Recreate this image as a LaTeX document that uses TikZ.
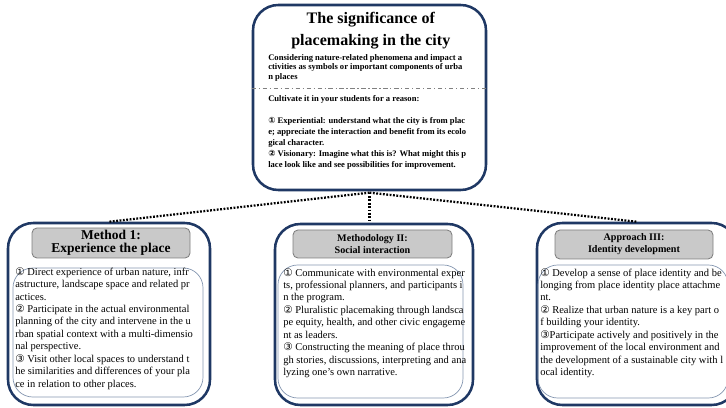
\documentclass[tikz,border=0pt]{standalone}
\usepackage{fontspec}
\setmainfont{Liberation Serif}
\newfontfamily\symfont{DejaVu Sans}
\usepackage{xcolor}
\usetikzlibrary{positioning,calc}
\definecolor{navy}{HTML}{1F3864}
\definecolor{headgray}{HTML}{C9C9C9}
\definecolor{headline}{HTML}{7F7F7F}
\definecolor{bodyline}{HTML}{8496B0}
\newcommand{\cnum}[1]{{\symfont #1}}

\begin{document}
\begin{tikzpicture}[
    outer/.style={draw=navy,line width=1.8pt,rounded corners=18pt,inner sep=0pt},
    head/.style={draw=headline,fill=headgray,rounded corners=3.5pt,line width=0.6pt,
                 inner sep=0pt,align=center},
    body/.style={draw=bodyline,rounded corners=14pt,line width=0.5pt,inner sep=0pt},
    txt/.style={anchor=north west,inner sep=0pt,align=left,
                font=\fontsize{7.47}{8.85}\selectfont},
    toptxt/.style={anchor=north west,inner sep=0pt,align=left},
    link/.style={line width=1.6pt,dash pattern=on 1.3pt off 1.1pt},
  ]
  \useasboundingbox (0,0) rectangle (18.15,-10.2);

  \node[outer,minimum width=5.825cm,minimum height=4.625cm] (sig) at (9.2375,-2.4375) {};
  \node[font=\fontsize{11.4}{15.4}\selectfont\bfseries,align=center,inner sep=0pt] (title)
    at (9.27,-0.76) {The significance of\\placemaking in the city};
  \node[toptxt,font=\fontsize{6.1}{6.8}\selectfont\bfseries] (idea) at (6.7,-1.35)
    {Considering nature-related phenomena and impact a\\ctivities as symbols or important components of urba\\n places};
  \draw[gray,line width=0.5pt,dash pattern=on 3pt off 2pt on 0.8pt off 2pt]
    (sig.west |- 0,-2.2) -- (sig.east |- 0,-2.2);
  \node[toptxt,font=\fontsize{6.1}{7.8}\selectfont\bfseries] (reason) at (6.7,-2.38)
    {Cultivate it in your students for a reason:\\[7.8pt]
     \cnum{\bfseries ①} Experiential: understand what the city is from plac\\e; appreciate the interaction and benefit from its ecolo\\gical character.\\
     \cnum{\bfseries ②} Visionary: Imagine what this is? What might this p\\lace look like and see possibilities for improvement.};

  \node[outer,minimum width=5.05cm,minimum height=4.55cm] (m1) at (2.725,-7.85) {};
  \node[head,minimum width=3.95cm,minimum height=0.75cm,
        font=\fontsize{9.6}{9.4}\selectfont\bfseries] (m1h) at (2.775,-6.075)
    {Method 1:\\Experience the place};
  \node[body,minimum width=4.75cm,minimum height=3.225cm] (m1b) at (2.7,-8.3125) {};
  \node[txt] (m1t) at (0.375,-6.68)
    {\cnum{①} Direct experience of urban nature, infr\\astructure, landscape space and related pr\\actices.\\
     \cnum{②} Participate in the actual environmental\\planning of the city and intervene in the u\\rban spatial context with a multi-dimensio\\nal perspective.\\
     \cnum{③} Visit other local spaces to understand t\\he similarities and differences of your pla\\ce in relation to other places.};

  \node[outer,minimum width=4.95cm,minimum height=4.525cm] (m2) at (9.35,-7.8625) {};
  \node[head,minimum width=3.975cm,minimum height=0.7cm,
        font=\fontsize{7.2}{8.6}\selectfont\bfseries] (m2h) at (9.3125,-6.1)
    {Methodology II:\\Social interaction};
  \node[body,minimum width=4.625cm,minimum height=3.325cm] (m2b) at (9.2625,-8.2875) {};
  \node[txt] (m2t) at (7.075,-6.7)
    {\cnum{①} Communicate with environmental exper\\ts, professional planners, and participants i\\n the program.\\
     \cnum{②} Pluralistic placemaking through landsca\\pe equity, health, and other civic engageme\\nt as leaders.\\
     \cnum{③} Constructing the meaning of place throu\\gh stories, discussions, interpreting and ana\\lyzing one's own narrative.};

  \node[outer,minimum width=5.0cm,minimum height=4.55cm] (m3) at (15.925,-7.85) {};
  \node[head,minimum width=3.95cm,minimum height=0.725cm,
        font=\fontsize{7.2}{8.6}\selectfont\bfseries] (m3h) at (15.85,-6.1125)
    {Approach III:\\Identity development};
  \node[body,minimum width=4.75cm,minimum height=3.325cm] (m3b) at (15.825,-8.2875) {};
  \node[txt] (m3t) at (13.5,-6.7)
    {\cnum{①} Develop a sense of place identity and be\\longing from place identity place attachme\\nt.\\
     \cnum{②} Realize that urban nature is a key part o\\f building your identity.\\
     \cnum{③}Participate actively and positively in the\\improvement of the local environment and\\the development of a sustainable city with l\\ocal identity.};

  \coordinate (hub) at ([yshift=-1pt]sig.south);
  \draw[link] (hub) -- (hub |- m2.north);
  \draw[link] (hub) -- (m1.north);
  \draw[link] (hub) -- (m3.north);
\end{tikzpicture}
\end{document}
